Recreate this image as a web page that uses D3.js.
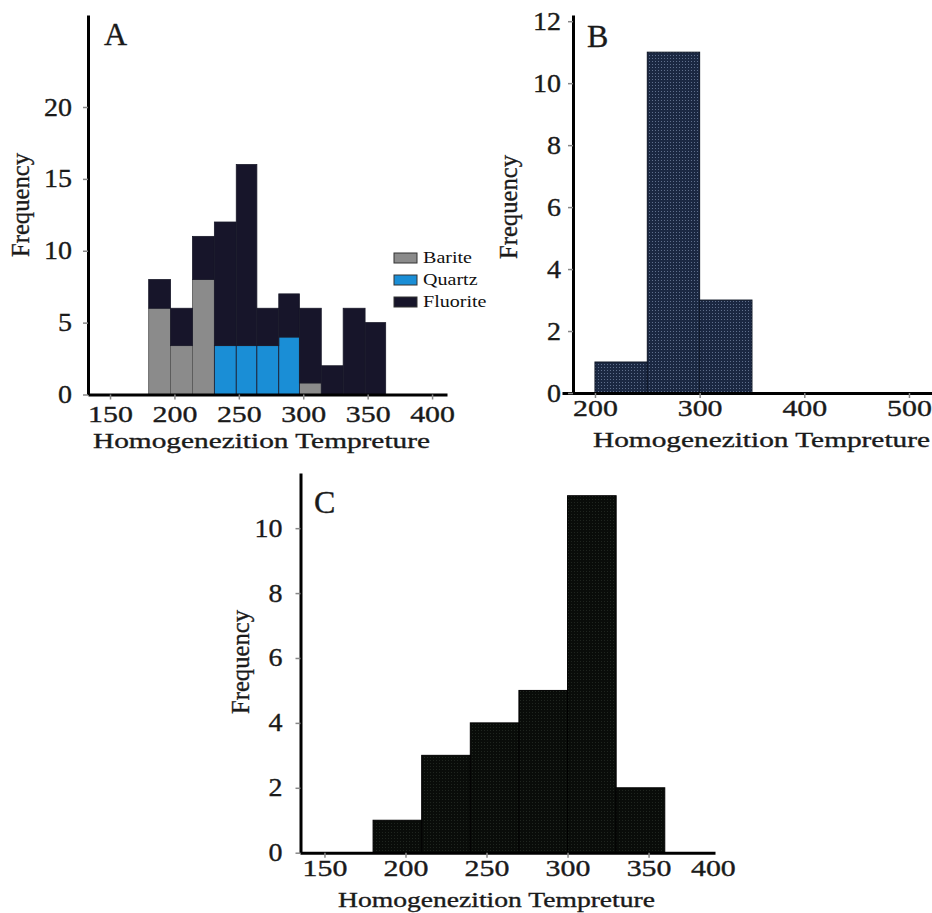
<!DOCTYPE html>
<html>
<head>
<meta charset="utf-8">
<script src="https://cdn.jsdelivr.net/npm/d3@7"></script>
<style>
  body { margin: 0; background: #fff; }
  svg { display: block; }
</style>
</head>
<body>
<div id="myChart"></div>
<script>
// panel A: stacked histogram per mineral
const edgesA = [180, 197, 214, 231, 248, 264, 281, 297, 314, 331, 348, 364];
const barite = [6, 3.4, 8, 0, 0, 0, 0, 0.8, 0, 0, 0];
const quartz = [0, 0, 0, 3.4, 3.4, 3.4, 4, 0, 0, 0, 0];
const fluorite = [2, 2.6, 3, 8.6, 12.6, 2.6, 3, 5.2, 2, 6, 5];
const minerals = ["Barite", "Quartz", "Fluorite"];
const ticksAx = [150, 200, 250, 300, 350, 400];
const ticksAy = [0, 5, 10, 15, 20];

// panel B
const edgesB = [200, 250, 300, 350];
const countsB = [1, 11, 3];
const ticksBx = [200, 300, 400, 500];
const ticksBy = [0, 2, 4, 6, 8, 10, 12];

// panel C
const edgesC = [180, 210, 240, 270, 300, 330, 360];
const countsC = [1, 3, 4, 5, 11, 2];
const ticksCx = [150, 200, 250, 300, 350, 400];
const ticksCy = [0, 2, 4, 6, 8, 10];

const W = 932, H = 913;
const serif = "Liberation Serif, Times New Roman, Times, serif";
const ink = "#1a1a1a";
const colors = { Barite: "#8b8b8b", Quartz: "#1a8ed6", Fluorite: "#17152a" };

const svg = d3.select("#myChart").append("svg").attr("width", W).attr("height", H);

// textures for B and C
const defs = svg.append("defs");
const patB = defs.append("pattern").attr("id", "texB").attr("patternUnits", "userSpaceOnUse")
  .attr("width", 3).attr("height", 3);
patB.append("rect").attr("width", 3).attr("height", 3).attr("fill", "#1b2842");
patB.append("rect").attr("width", 1).attr("height", 1).attr("x", 1).attr("y", 1).attr("fill", "#5f6f8c");
const patC = defs.append("pattern").attr("id", "texC").attr("patternUnits", "userSpaceOnUse")
  .attr("width", 3).attr("height", 3);
patC.append("rect").attr("width", 3).attr("height", 3).attr("fill", "#090c09");
patC.append("rect").attr("width", 1).attr("height", 1).attr("x", 1).attr("y", 1).attr("fill", "#1f251f");

// horizontal stretch of the lettering in the original
function stretch(sel, k) {
  sel.each(function () {
    const w = this.getComputedTextLength();
    d3.select(this).attr("textLength", w * k).attr("lengthAdjust", "spacingAndGlyphs");
  });
}

function heavy(sel) {
  sel.attr("fill", ink).attr("stroke", ink).attr("stroke-width", 0.35);
}

function drawAxes(x, y, o) {
  const gx = svg.append("g")
    .attr("transform", "translate(0," + y(0) + ")")
    .call(d3.axisBottom(x).tickValues(o.xt).tickSize(5).tickSizeOuter(0).tickPadding(o.xpad))
    .attr("font-family", serif).attr("font-size", 23);
  gx.select(".domain").attr("stroke", "#000").attr("stroke-width", 3);
  gx.selectAll(".tick line").attr("stroke", "#888").attr("stroke-width", 1.5);
  gx.selectAll(".tick text").call(heavy).attr("dy", "0.71em");
  stretch(gx.selectAll(".tick text"), 1.3);

  const gy = svg.append("g")
    .attr("transform", "translate(" + o.yx + ",0)")
    .call(d3.axisLeft(y).tickValues(o.yt).tickSize(5).tickSizeOuter(0).tickPadding(o.ypad))
    .attr("font-family", serif).attr("font-size", 25);
  gy.select(".domain").attr("stroke", "#000").attr("stroke-width", 3);
  gy.selectAll(".tick line").attr("stroke", "#888").attr("stroke-width", 1.5);
  gy.selectAll(".tick text").call(heavy);
  stretch(gy.selectAll(".tick text"), 1.12);

  svg.append("text")
    .attr("x", o.tx).attr("y", o.ty)
    .attr("text-anchor", "middle")
    .attr("font-family", serif).attr("font-size", 21)
    .attr("textLength", o.tlen).attr("lengthAdjust", "spacingAndGlyphs")
    .call(heavy)
    .text("Homogenezition Tempreture");

  svg.append("text")
    .attr("transform", "translate(" + o.fx + "," + o.fy + ") rotate(-90)")
    .attr("text-anchor", "middle")
    .attr("font-family", serif).attr("font-size", 26)
    .attr("textLength", 104).attr("lengthAdjust", "spacingAndGlyphs")
    .call(heavy)
    .text("Frequency");

  svg.append("text")
    .attr("x", o.lx).attr("y", o.ly)
    .attr("font-family", serif).attr("font-size", 32)
    .call(heavy)
    .text(o.label);
}

// ---------- A ----------
const xA = d3.scaleLinear().domain([132.9, 411.6]).range([88, 447]);
const yA = d3.scaleLinear().domain([0, 26.4]).range([394.5, 15]);

const binsA = edgesA.slice(0, -1).map((e, i) => ({
  x0: e, x1: edgesA[i + 1], Barite: barite[i], Quartz: quartz[i], Fluorite: fluorite[i]
}));
const stackA = d3.stack().keys(minerals)(binsA);

svg.append("g").selectAll("g")
  .data(stackA)
  .join("g")
  .attr("fill", (d) => colors[d.key])
  .attr("stroke", (d) => d.key === "Barite" ? "#555" : "#1a1a2a")
  .attr("stroke-width", 0.8)
  .selectAll("rect")
  .data((d) => d.filter((v) => v[1] - v[0] > 0))
  .join("rect")
  .attr("x", (d) => xA(d.data.x0))
  .attr("width", (d) => xA(d.data.x1) - xA(d.data.x0))
  .attr("y", (d) => yA(d[1]))
  .attr("height", (d) => yA(d[0]) - yA(d[1]));

drawAxes(xA, yA, {
  xt: ticksAx, yt: ticksAy, yx: 88, xpad: 6, ypad: 11,
  tx: 261.5, ty: 448, tlen: 337, fx: 29, fy: 205, lx: 104, ly: 45, label: "A"
});

// legend
const leg = svg.append("g");
minerals.forEach((m, i) => {
  const yy = 253 + i * 22;
  leg.append("rect").attr("x", 394).attr("y", yy).attr("width", 23).attr("height", 10)
    .attr("fill", colors[m]).attr("stroke", "#333").attr("stroke-width", 1);
  const t = leg.append("text").attr("x", 423).attr("y", yy + 10)
    .attr("font-family", serif).attr("font-size", 17).attr("fill", "#111").text(m);
  stretch(t, 1.18);
});

// ---------- B ----------
const xB = d3.scaleLinear().domain([168.5, 522]).range([562, 932]);
const yB = d3.scaleLinear().domain([0, 12.2]).range([393, 15]);

svg.append("g").selectAll("rect")
  .data(countsB)
  .join("rect")
  .attr("x", (d, i) => xB(edgesB[i]))
  .attr("width", (d, i) => xB(edgesB[i + 1]) - xB(edgesB[i]))
  .attr("y", (d) => yB(d))
  .attr("height", (d) => yB(0) - yB(d))
  .attr("fill", "url(#texB)")
  .attr("stroke", "#0e1626").attr("stroke-width", 1);

drawAxes(xB, yB, {
  xt: ticksBx, yt: ticksBy, yx: 573, xpad: 2, ypad: 7,
  tx: 761.5, ty: 447, tlen: 337, fx: 517, fy: 207, lx: 587, ly: 47, label: "B"
});

// ---------- C ----------
const xC = d3.scaleLinear().domain([134.9, 391]).range([300, 715]);
const yC = d3.scaleLinear().domain([0, 11.7]).range([852.7, 473]);

svg.append("g").selectAll("rect")
  .data(countsC)
  .join("rect")
  .attr("x", (d, i) => xC(edgesC[i]))
  .attr("width", (d, i) => xC(edgesC[i + 1]) - xC(edgesC[i]))
  .attr("y", (d) => yC(d))
  .attr("height", (d) => yC(0) - yC(d))
  .attr("fill", "url(#texC)")
  .attr("stroke", "#000").attr("stroke-width", 1);

drawAxes(xC, yC, {
  xt: ticksCx.filter((t) => t <= 391), yt: ticksCy, yx: 300.5, xpad: 2, ypad: 13,
  tx: 496.5, ty: 907, tlen: 317, fx: 249, fy: 662, lx: 314, ly: 513, label: "C"
});

// the 400 label of C sits past the end of its axis line
svg.append("text")
  .attr("x", xC(390)).attr("y", yC(0) + 23.3)
  .attr("text-anchor", "middle")
  .attr("font-family", serif).attr("font-size", 23)
  .call(heavy)
  .text("400")
  .call(stretch, 1.3);
</script>
</body>
</html>
